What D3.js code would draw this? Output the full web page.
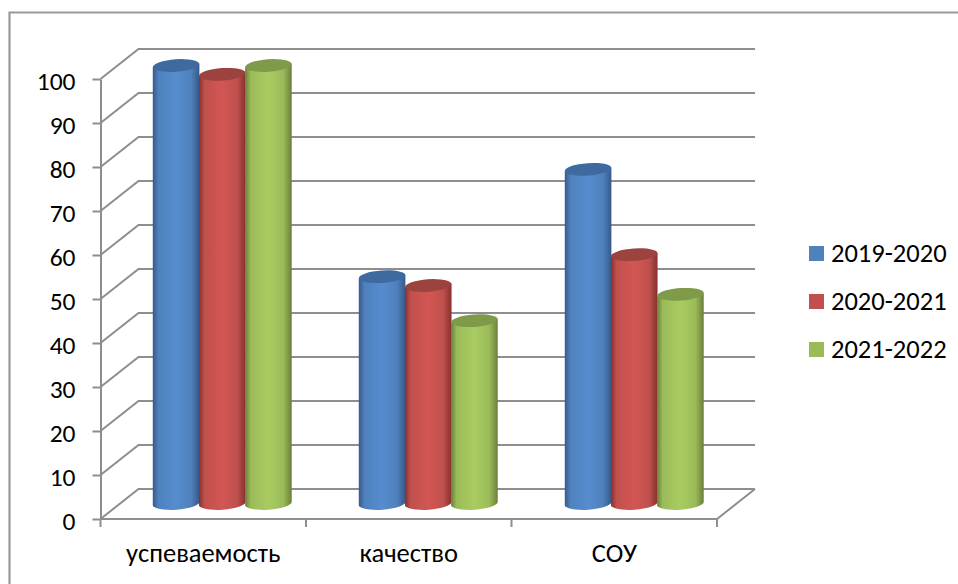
<!DOCTYPE html>
<html><head><meta charset="utf-8">
<script src="https://cdn.jsdelivr.net/npm/d3@7"></script>
<style>html,body{margin:0;padding:0;background:#fff}svg{display:block}text{font-family:Carlito,Calibri,"Open Sans","Noto Sans",sans-serif;fill:#000}</style>
</head><body><svg id="c" width="958" height="584"></svg>
<script>
const categories = ["успеваемость","качество","СОУ"];
const seriesNames = ["2019-2020","2020-2021","2021-2022"];
const s2019 = [100,52,76.4];
const s2020 = [98,50,57];
const s2021 = [100,42,48];
const yTicks = [0,10,20,30,40,50,60,70,80,90,100];
const seriesValues = [s2019,s2020,s2021];
const base = ["#4f81bd","#c0504d","#9bbb59"];
const light = ["#568cce","#d25653","#a9cc61"];
const dark = ["#36598a","#85312f","#6a8038"];
const top_ = ["#3f6aa0","#9c423f","#7f9a49"];
const legendColors = ["#4f81bd","#c0504d","#9bbb59"];

const svg = d3.select("#c");
const defs = svg.append("defs");
base.forEach((c,i)=>{
  const g = defs.append("linearGradient").attr("id","g"+i);
  [[0,dark[i]],[.12,base[i]],[.5,light[i]],[.82,base[i]],[1,dark[i]]].forEach(([o,k])=>g.append("stop").attr("offset",o).attr("stop-color",k));
});
const dx=38, dy=-30;
const y = d3.scaleLinear().domain([0,100]).range([519,79]);
const x = d3.scaleBand().domain(categories).range([100.5,717]);
const xBars = d3.scaleBand().domain(categories).range([101,719]);
const inner = d3.scaleBand().domain(seriesNames).range([52,190.5]);
const grey="#8e8e8e";

svg.append("path").attr("fill","none").attr("stroke","#999").attr("stroke-width",2.2)
  .attr("d",d3.line()([[9.5,584],[9.5,12.5],[958,12.5]]));

const gridG = svg.append("g").attr("fill","none").attr("stroke",grey).attr("stroke-width",2);
yTicks.forEach(t=>{
  gridG.append("path").attr("d",d3.line()([[x.range()[0],y(t)],[x.range()[0]+dx,y(t)+dy],[x.range()[1]+dx,y(t)+dy]]));
});
const axL = d3.axisLeft(y).tickValues(yTicks).tickSize(8).tickPadding(17).tickSizeOuter(0);
const gL = svg.append("g").attr("transform","translate(100.5,0)").call(axL);
gL.selectAll("path,line").attr("stroke",grey).attr("stroke-width",2);
gL.selectAll("text").attr("dy","0.4em").style("font-size","25.5px");
const axB = d3.axisBottom(x).tickSize(0).tickPadding(0);
const gB = svg.append("g").attr("transform","translate(0,519)").call(axB);
gB.select("path").remove();
gB.selectAll("line").remove();
gB.selectAll("text").attr("y",43).attr("dy",0).style("font-size","26.5px");
const bt = svg.append("g").attr("stroke",grey).attr("stroke-width",2).attr("fill","none");
bt.append("path").attr("d",d3.line()([[100.5,519],[717,519],[717+dx,519+dy]]));
categories.forEach(c=>{const p=x(c);bt.append("line").attr("x1",p).attr("x2",p).attr("y1",519).attr("y2",527);});
bt.append("line").attr("x1",717).attr("x2",717).attr("y1",519).attr("y2",527);

const rx=23.3, ry=6.2, tilt=-4, baseOff=15.5;
const bars = svg.append("g");
categories.forEach((cat,ci)=>{
  seriesNames.forEach((s,si)=>{
    const v = seriesValues[si][ci];
    const cx = xBars(cat)+inner(s)+inner.bandwidth()/2;
    const by = y(0)-baseOff, ty = y(v)-baseOff+2;
    const g = bars.append("g");
    const sinT = Math.sin(tilt*Math.PI/180)*rx;
    g.append("path").attr("fill",`url(#g${si})`)
      .attr("d",`M${cx-rx},${ty-sinT} L${cx+rx},${ty+sinT} L${cx+rx},${by+sinT} A${rx},${ry} ${tilt} 0 1 ${cx-rx},${by-sinT} Z`);
    g.append("ellipse").attr("cx",cx).attr("cy",ty).attr("rx",rx).attr("ry",ry).attr("transform",`rotate(${tilt} ${cx} ${ty})`).attr("fill",top_[si]);
  });
});

const legY = [253.5,301.5,349.5];
seriesNames.forEach((s,i)=>{
  svg.append("rect").attr("x",809).attr("y",legY[i]-7.5).attr("width",15).attr("height",15).attr("fill",legendColors[i]);
  svg.append("text").attr("x",831).attr("y",legY[i]+8.5).style("font-size","26.5px").text(s);
});
</script></body></html>
